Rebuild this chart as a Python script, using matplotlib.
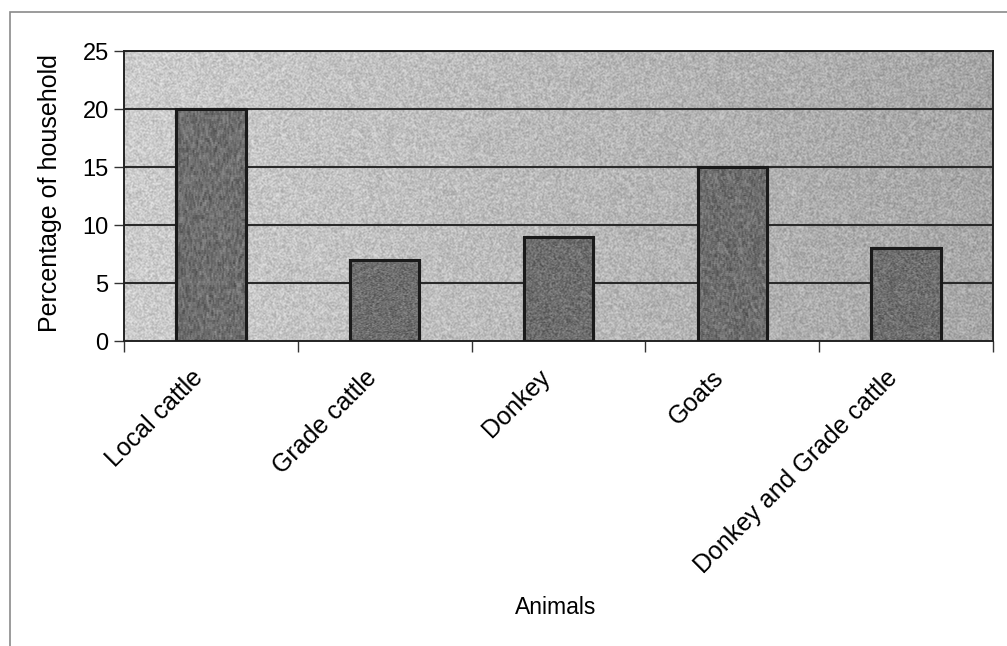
import numpy as np
import matplotlib
matplotlib.use("Agg")
import matplotlib.pyplot as plt
from matplotlib.patches import Rectangle
from matplotlib.transforms import ScaledTranslation

plt.rcParams['font.family'] = ['Liberation Sans', 'DejaVu Sans']

animals = ["Local cattle", "Grade cattle", "Donkey", "Goats", "Donkey and Grade cattle"]
households_pct = [20, 7, 9, 15, 8]
y_ticks = [0, 5, 10, 15, 20, 25]

W, H = 1007, 646
fig = plt.figure(figsize=(W / 100, H / 100), dpi=100)
fig.patch.set_facecolor("white")

# outer chart frame
fig.patches.append(Rectangle((10 / W, -0.05), 1.0, 1 - 12 / H + 0.05,
                             transform=fig.transFigure, fill=False,
                             edgecolor="#8a8a8a", linewidth=1.2))

ax = fig.add_axes([124 / W, 1 - 341 / H, (993 - 124) / W, (341 - 51) / H])
n = len(animals)
x = np.arange(n)


def stipple(h, w, seed_x, seed_y):
    """Deterministic speckle pattern in [0, 1] (hash of pixel indices)."""
    jj, ii = np.meshgrid(np.arange(w) + seed_x, np.arange(h) + seed_y)
    v = np.sin(jj * 12.9898 + ii * 78.233) * 43758.5453
    v = v - np.floor(v)
    v = (v + np.roll(v, 1, 0) + np.roll(v, 1, 1) + np.roll(np.roll(v, 1, 0), 1, 1)) / 4
    return v


# speckled plot background, lighter on the left
ph, pw = 290, 869
grad = np.linspace(0.80, 0.65, pw)[None, :] * np.ones((ph, 1))
bg = grad + (stipple(ph, pw, 3, 7) - 0.5) * 0.26
ax.imshow(np.clip(bg, 0, 1), cmap="gray", vmin=0, vmax=1, aspect="auto",
          extent=(-0.5, n - 0.5, 0, 25), zorder=0, interpolation="nearest")

for yv in y_ticks[1:]:
    ax.axhline(yv, color="#2a2a2a", linewidth=1.5, zorder=1)

bars = ax.bar(x, households_pct, width=0.4, color="#6e6e6e", edgecolor="#1a1a1a",
              linewidth=2.2, zorder=3)

# speckle inside each bar
for k, patch in enumerate(bars.patches):
    x0, y0 = patch.get_x(), patch.get_y()
    bw, bh = patch.get_width(), patch.get_height()
    tex = 0.43 + (stipple(120, 70, 100 + 37 * k, 11 * k) - 0.5) * 0.30
    im = ax.imshow(np.clip(tex, 0, 1), cmap="gray", vmin=0, vmax=1, aspect="auto",
                   extent=(x0, x0 + bw, y0, y0 + bh), zorder=3.5,
                   interpolation="nearest")
    im.set_clip_path(patch)
    ax.add_patch(Rectangle((x0, y0), bw, bh, fill=False, edgecolor="#1a1a1a",
                           linewidth=2.2, zorder=4))

ax.set_xlim(-0.5, n - 0.5)
ax.set_ylim(0, 25)

ax.set_yticks(y_ticks)
ax.set_yticklabels([str(v) for v in y_ticks], fontsize=17)
ax.tick_params(axis="y", length=7, width=1.0, color="#333333", pad=4)

# category boundaries carry the tick marks; names are drawn slanted below
ax.set_xticks(np.arange(n + 1) - 0.5)
ax.set_xticklabels([])
ax.tick_params(axis="x", length=8, width=1.0, color="#333333")
label_tf = ax.get_xaxis_transform() + ScaledTranslation(-12 / 100, -33 / 100,
                                                         fig.dpi_scale_trans)
for xi, name in zip(x, animals):
    ax.text(xi, 0, name, transform=label_tf, rotation=45, ha="right", va="center",
            rotation_mode="anchor", fontsize=18)

for s in ax.spines.values():
    s.set_color("#222222")
    s.set_linewidth(1.4)

ax.set_ylabel("Percentage of household", fontsize=18)
ax.yaxis.set_label_coords(-0.071, 0.51)
fig.text(556 / W, 1 - 607 / H, "Animals", fontsize=16.5, ha="center", va="center")

fig.savefig("out.png", dpi=100, facecolor="white")
